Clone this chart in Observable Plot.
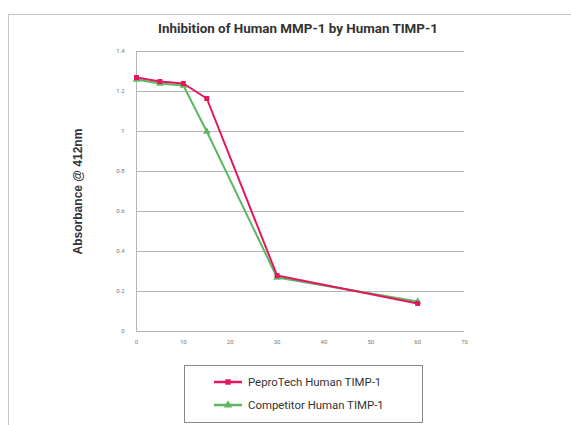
<!DOCTYPE html>
<html>
<head>
<meta charset="utf-8">
<script src="https://cdn.jsdelivr.net/npm/d3@7"></script>
<script src="https://cdn.jsdelivr.net/npm/@observablehq/plot@0.6"></script>
<style>
  html, body { margin: 0; padding: 0; background: #fff; width: 571px; height: 425px; overflow: hidden; font-family: Roboto, "Open Sans", sans-serif; }
  #frame { position: absolute; left: 8px; top: 14px; width: 580px; height: 430px; border: 1px solid #c8c8c8; box-sizing: border-box; }
  #title { position: absolute; left: 157px; top: 21px; width: 282px; text-align: center; font-weight: bold; font-size: 13.4px; color: #333; white-space: nowrap; }
  #chart { position: absolute; left: 0; top: 40px; }
  #chart svg g[aria-label="y-axis label"] text { font-weight: bold; font-size: 12px; fill: #333; font-family: "Liberation Sans", Arial, sans-serif; }
  #legend { position: absolute; left: 184px; top: 365px; width: 239px; height: 58px; border: 1px solid #888; box-sizing: border-box; font-size: 11.4px; color: #333; }
  .row { position: absolute; left: 28px; display: flex; align-items: center; white-space: nowrap; }
  .row svg { margin-right: 5px; }
</style>
</head>
<body>
<div id="frame"></div>
<div id="title">Inhibition of Human MMP-1 by Human TIMP-1</div>
<div id="chart"></div>
<div id="legend"></div>
<script>
const seriesNames = ["PeproTech Human TIMP-1", "Competitor Human TIMP-1"];
const seriesColors = ["#e3175d", "#5cb860"];
const seriesSymbols = ["square", "triangle"];
const times = [0, 5, 10, 15, 30, 60];
const peprotech = [1.27, 1.25, 1.24, 1.165, 0.28, 0.14];
const competitor = [1.26, 1.24, 1.23, 1.0, 0.27, 0.15];
const xTicks = [0, 10, 20, 30, 40, 50, 60, 70];
const yTicks = [0, 0.2, 0.4, 0.6, 0.8, 1, 1.2, 1.4];

const data = [];
[peprotech, competitor].forEach((vals, s) => {
  vals.forEach((v, i) => data.push({series: seriesNames[s], x: times[i], y: v}));
});

const fmt = d => String(d);

const plot = Plot.plot({
  width: 571,
  height: 320,
  marginLeft: 136,
  marginRight: 107,
  marginTop: 11,
  marginBottom: 29,
  style: {fontFamily: "Roboto, sans-serif", fontSize: "6px", color: "#777", background: "transparent"},
  x: {domain: [0, 70], ticks: xTicks, tickFormat: fmt, tickSize: 0, tickPadding: 8, label: null},
  y: {domain: [0, 1.4], ticks: yTicks, tickFormat: fmt, tickSize: 0, tickPadding: 12, label: "Absorbance @ 412nm", labelAnchor: "center", labelOffset: 63, labelArrow: "none"},
  color: {domain: seriesNames, range: seriesColors},
  symbol: {domain: seriesNames, range: seriesSymbols},
  marks: [
    Plot.gridY(yTicks, {stroke: "#b5b5b5", strokeOpacity: 1, strokeWidth: 1}),
    Plot.ruleX([0], {stroke: "#b5b5b5", strokeWidth: 1}),
    Plot.line(data.filter(d => d.series === seriesNames[1]), {x: "x", y: "y", stroke: "series", strokeWidth: 2}),
    Plot.dot(data.filter(d => d.series === seriesNames[1]), {x: "x", y: "y", fill: "series", symbol: "series", r: 2.8}),
    Plot.line(data.filter(d => d.series === seriesNames[0]), {x: "x", y: "y", stroke: "series", strokeWidth: 2}),
    Plot.dot(data.filter(d => d.series === seriesNames[0]), {x: "x", y: "y", fill: "series", symbol: "series", r: 2.8})
  ]
});
document.getElementById("chart").appendChild(plot);

const legend = document.getElementById("legend");
seriesNames.forEach((name, i) => {
  const row = document.createElement("div");
  row.className = "row";
  row.style.top = (i === 0 ? 9 : 32) + "px";
  const sw = d3.create("svg").attr("width", 30).attr("height", 12);
  sw.append("line").attr("x1", 1).attr("x2", 29).attr("y1", 6).attr("y2", 6).attr("stroke", seriesColors[i]).attr("stroke-width", 2.5);
  sw.append("path").attr("transform", "translate(15,6)").attr("d", d3.symbol(i === 0 ? d3.symbolSquare : d3.symbolTriangle, 30)()).attr("fill", seriesColors[i]);
  row.appendChild(sw.node());
  const t = document.createElement("span");
  t.textContent = name;
  row.appendChild(t);
  legend.appendChild(row);
});
</script>
</body>
</html>
